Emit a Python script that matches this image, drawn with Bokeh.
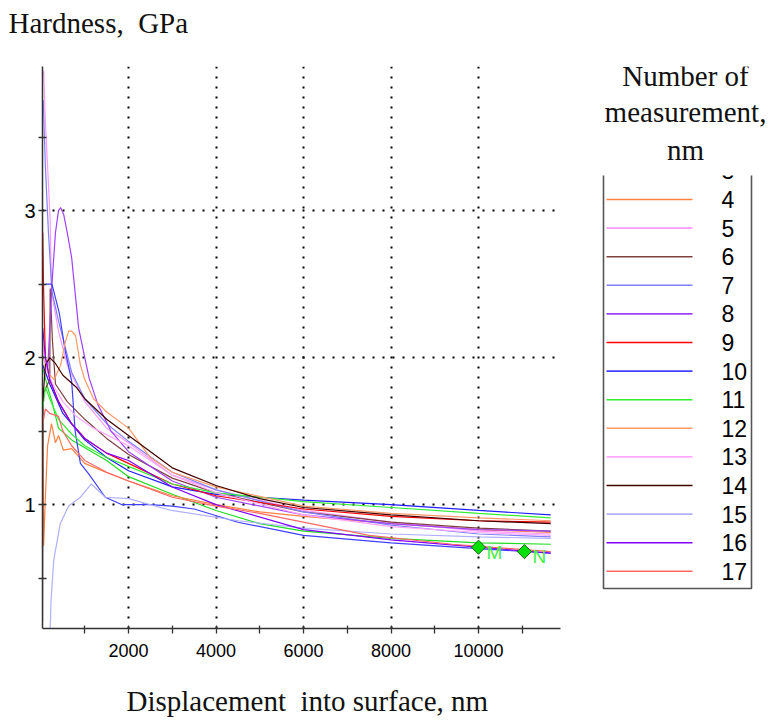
from bokeh.plotting import figure
from bokeh.layouts import row
from bokeh.models import Range1d, FixedTicker, Title, ColumnDataSource
from bokeh.core.properties import value
from bokeh.embed import file_html
from bokeh.resources import INLINE
import numpy as np

# ---------------- data ----------------
SERIES_IDS = [2, 3, 4, 5, 6, 7, 8, 9, 10, 11, 12, 13, 14, 15, 16, 17]
COLORS = {
    2: "#22DD22", 3: "#1E1EFF", 4: "#FF8040", 5: "#FF99FF", 6: "#804040",
    7: "#8080FF", 8: "#A040FF", 9: "#FF0000", 10: "#4040FF", 11: "#33EE33",
    12: "#FF9966", 13: "#FFAAFF", 14: "#400000", 15: "#B0B0FF", 16: "#8000FF",
    17: "#FF6666",
}

S2_X = [50, 150, 250, 400, 700, 1100, 1500, 2000, 3000, 4000, 5000, 6000, 8000, 10000, 11650]
S2_Y = [1.92, 1.80, 1.70, 1.52, 1.44, 1.37, 1.30, 1.19, 1.07, 0.96, 0.87, 0.82, 0.77, 0.74, 0.73]

S3_X = [40, 200, 500, 1000, 1500, 2000, 3000, 4000, 5000, 6000, 8000, 10000, 11650]
S3_Y = [1.95, 1.82, 1.62, 1.44, 1.32, 1.23, 1.12, 1.07, 1.05, 1.03, 1.00, 0.96, 0.93]

S4_X = [40, 60, 100, 150, 240, 330, 400, 510, 700, 1000, 1480, 2000, 3000, 4000, 5000, 6000, 8000, 10000, 11650]
S4_Y = [1.72, 0.72, 1.05, 1.40, 1.55, 1.42, 1.47, 1.37, 1.38, 1.28, 1.22, 1.16, 1.06, 1.00, 0.95, 0.92, 0.87, 0.83, 0.81]

S5_X = [60, 100, 170, 210, 240, 400, 600, 1000, 1500, 2000, 3000, 4000, 6000, 8000, 10000, 11650]
S5_Y = [3.95, 3.60, 3.18, 2.93, 2.45, 2.18, 1.95, 1.70, 1.52, 1.42, 1.20, 1.10, 0.96, 0.88, 0.82, 0.80]

S6_X = [35, 45, 60, 120, 200, 210, 260, 330, 600, 1000, 1500, 2000, 3000, 4000, 6000, 8000, 10000, 11650]
S6_Y = [0.20, 1.60, 1.75, 1.80, 1.85, 2.47, 2.12, 1.82, 1.70, 1.58, 1.45, 1.34, 1.18, 1.08, 0.95, 0.88, 0.84, 0.82]

S7_X = [50, 100, 170, 250, 400, 700, 1000, 1500, 2000, 3000, 4000, 6000, 8000, 10000, 11650]
S7_Y = [3.75, 3.30, 2.85, 2.45, 2.25, 1.90, 1.72, 1.55, 1.43, 1.22, 1.10, 0.95, 0.86, 0.80, 0.78]

S8_X = [150, 250, 330, 400, 450, 520, 600, 700, 860, 1000, 1100, 1300, 1600, 2000, 3000, 4000, 6000, 8000, 10000, 11650]
S8_Y = [1.90, 2.50, 2.85, 3.00, 3.02, 2.97, 2.85, 2.68, 2.20, 2.00, 1.86, 1.68, 1.50, 1.36, 1.16, 1.05, 0.93, 0.87, 0.83, 0.82]

S9_X = [40, 60, 100, 200, 400, 700, 1000, 1500, 2000, 3000, 4000, 6000, 8000, 10000, 11650]
S9_Y = [2.85, 2.45, 2.00, 1.85, 1.70, 1.55, 1.45, 1.35, 1.28, 1.14, 1.06, 0.97, 0.92, 0.89, 0.88]

S10_X = [100, 250, 420, 550, 700, 780, 900, 1085, 1470, 1840, 2500, 3000, 3500, 4500, 6000, 8000, 10000, 11650]
S10_Y = [2.50, 2.50, 2.30, 2.05, 1.84, 1.50, 1.28, 1.21, 1.05, 1.00, 1.00, 0.99, 0.97, 0.88, 0.79, 0.74, 0.70, 0.67]

S11_X = [40, 100, 200, 400, 700, 1000, 1500, 2000, 3000, 4000, 6000, 8000, 10000, 11650]
S11_Y = [1.65, 1.80, 1.72, 1.58, 1.48, 1.40, 1.32, 1.26, 1.14, 1.08, 1.02, 0.98, 0.94, 0.91]

S12_X = [60, 150, 300, 450, 550, 630, 700, 790, 900, 1000, 1200, 1500, 2000, 2500, 3000, 4000, 6000, 8000, 10000, 11650]
S12_Y = [2.00, 1.90, 1.85, 1.95, 2.10, 2.18, 2.18, 2.15, 1.95, 1.85, 1.72, 1.63, 1.52, 1.32, 1.22, 1.12, 0.99, 0.94, 0.91, 0.89]

S13_X = [40, 80, 150, 300, 500, 800, 1200, 2000, 3000, 4000, 6000, 8000, 10000, 11650]
S13_Y = [2.10, 2.00, 1.90, 1.80, 1.70, 1.60, 1.52, 1.40, 1.20, 1.08, 0.93, 0.85, 0.81, 0.79]

S14_X = [40, 100, 200, 330, 500, 800, 1000, 1500, 2000, 3000, 4000, 5000, 6000, 8000, 10000, 11650]
S14_Y = [1.70, 1.95, 2.00, 1.96, 1.88, 1.80, 1.72, 1.58, 1.47, 1.25, 1.13, 1.04, 0.98, 0.93, 0.89, 0.87]

S15_X = [210, 230, 290, 440, 630, 900, 1150, 1470, 2000, 2980, 4510, 6000, 8000, 10000, 11650]
S15_Y = [0.16, 0.35, 0.62, 0.87, 0.99, 1.05, 1.14, 1.05, 1.04, 0.96, 0.89, 0.84, 0.80, 0.78, 0.77]

S16_X = [40, 100, 200, 400, 700, 1000, 1500, 2000, 3000, 4000, 6000, 8000, 10000, 11650]
S16_Y = [2.20, 2.00, 1.85, 1.70, 1.55, 1.45, 1.35, 1.30, 1.12, 1.00, 0.83, 0.76, 0.71, 0.67]

S17_X = [40, 100, 200, 400, 500, 700, 1000, 1500, 2000, 3000, 4000, 5000, 7500, 9400, 11650]
S17_Y = [1.55, 1.65, 1.62, 1.60, 1.50, 1.40, 1.30, 1.22, 1.16, 1.05, 0.99, 0.94, 0.79, 0.73, 0.68]

MARK_X = [10000, 11050]
MARK_Y = [0.71, 0.68]
MARK_TEXT = ["M", "N"]

X_MAJOR = [2000, 4000, 6000, 8000, 10000]
X_MINOR = [1000, 3000, 5000, 7000, 9000, 11000]
Y_MAJOR = [1, 2, 3]
Y_MINOR = [0.5, 1.5, 2.5, 3.5]

LEGEND_TITLE = ["Number of", "measurement,", "nm"]

SERIES = {
    2: (S2_X, S2_Y), 3: (S3_X, S3_Y), 4: (S4_X, S4_Y), 5: (S5_X, S5_Y),
    6: (S6_X, S6_Y), 7: (S7_X, S7_Y), 8: (S8_X, S8_Y), 9: (S9_X, S9_Y),
    10: (S10_X, S10_Y), 11: (S11_X, S11_Y), 12: (S12_X, S12_Y), 13: (S13_X, S13_Y),
    14: (S14_X, S14_Y), 15: (S15_X, S15_Y), 16: (S16_X, S16_Y), 17: (S17_X, S17_Y),
}

SERIF = "Liberation Serif"
SANS = "Liberation Sans"
H = 720
TOP_B, BOT_B = 66, 92
MAIN_W = 578

# ---------------- main plot ----------------
p = figure(width=MAIN_W, height=H, output_backend="svg", toolbar_location=None,
           x_range=Range1d(34, 11874), y_range=Range1d(0.157, 3.98),
           min_border_left=42, min_border_right=18, min_border_top=TOP_B, min_border_bottom=BOT_B)
p.outline_line_color = None
p.background_fill_color = "white"
p.border_fill_color = "white"

for k in SERIES_IDS:
    xs, ys = SERIES[k]
    p.line(xs, ys, line_color=COLORS[k], line_width=1.2)

p.scatter(MARK_X, MARK_Y, marker="square", angle=np.pi / 4, size=10,
          fill_color="#00E000", line_color="#1C5C1C", line_width=1)
p.text(MARK_X, MARK_Y, text=MARK_TEXT, x_offset=8, y_offset=5,
       text_font=value(SANS), text_font_size="19px", text_color="#44EE44",
       text_baseline="middle", text_align="left")

for ax in (p.xaxis[0], p.yaxis[0]):
    ax.axis_line_color = "#333333"
    ax.axis_line_width = 1.5
    ax.major_tick_line_color = "#333333"
    ax.minor_tick_line_color = "#333333"
    ax.major_tick_line_width = 1.3
    ax.minor_tick_line_width = 1.3
    ax.major_label_text_font = SANS
    ax.major_label_text_color = "black"

p.xaxis.major_label_text_font_size = "18px"
p.yaxis.major_label_text_font_size = "20px"

p.xaxis.ticker = FixedTicker(ticks=X_MAJOR, minor_ticks=X_MINOR)
p.xaxis.major_tick_in = 3
p.xaxis.major_tick_out = 5
p.xaxis.minor_tick_in = 3
p.xaxis.minor_tick_out = 5
p.xaxis.major_label_standoff = 10

p.yaxis.ticker = FixedTicker(ticks=Y_MAJOR, minor_ticks=Y_MINOR)
p.yaxis.major_tick_in = 4
p.yaxis.major_tick_out = 4
p.yaxis.minor_tick_in = 4
p.yaxis.minor_tick_out = 4
p.yaxis.major_label_standoff = 3

p.xgrid.ticker = FixedTicker(ticks=X_MAJOR)
p.ygrid.ticker = FixedTicker(ticks=Y_MAJOR)
for g in (p.xgrid[0], p.ygrid[0]):
    g.grid_line_color = "black"
    g.grid_line_width = 2
    g.grid_line_dash = "2 8"

# above: spacer (nearest the frame) then the axis title
p.add_layout(Title(text=" ", standoff=0, text_font=SERIF, text_font_size="24px"), "above")
p.add_layout(Title(text="Hardness,\u00a0 GPa", align="left", offset=-34, standoff=0,
                   text_font=SERIF, text_font_size="29px", text_font_style="normal",
                   text_color="#111111"), "above")
# below: axis, spacer, title
p.add_layout(Title(text=" ", standoff=0, text_font=SERIF, text_font_size="19px"), "below")
p.add_layout(Title(text="Displacement\u00a0 into surface, nm", align="left", offset=84, standoff=0,
                   text_font=SERIF, text_font_size="29px", text_font_style="normal",
                   text_color="#111111"), "below")

# ---------------- legend panel ----------------
ROW = 28.6                       # px between entries
FRAME_H = H - TOP_B - BOT_B      # same frame height as the main plot


def row_at(py_page):
    """legend row coordinate of a page pixel row (entry '4' sits at page y=199)"""
    return 4 + (py_page - 199) / ROW


top_val = row_at(TOP_B)
bot_val = top_val + FRAME_H / ROW
lg = figure(width=190, height=H, output_backend="svg", toolbar_location=None,
            x_range=Range1d(0, 190), y_range=Range1d(bot_val, top_val),
            min_border_left=0, min_border_right=0, min_border_top=TOP_B, min_border_bottom=BOT_B,
            x_axis_location=None, y_axis_location=None)
lg.outline_line_color = None
lg.xgrid.visible = False
lg.ygrid.visible = False

ids = [1] + SERIES_IDS
cols = ["#404040"] + [COLORS[k] for k in SERIES_IDS]
src = ColumnDataSource(dict(y=ids, c=cols, t=[str(k) for k in ids],
                            x0=[28] * len(ids), x1=[114] * len(ids), xt=[143] * len(ids)))
lg.segment(x0="x0", y0="y", x1="x1", y1="y", line_color="c", line_width=1.6, source=src)
lg.text(x="xt", y="y", text="t", text_font=value(SANS), text_font_size="23px",
        text_color="black", text_baseline="middle", text_align="left", source=src)

box_top = row_at(175)
box_bot = row_at(588)
# white cover above the (scrolled) legend box
lg.quad(left=0, right=190, top=top_val, bottom=box_top, fill_color="white", line_color=None)
# box sides (no top edge)
lg.line([25, 25, 173, 173], [box_top, box_bot, box_bot, box_top], line_color="#555555", line_width=1.6)

lg.text(x=[107] * 3, y=[row_at(75), row_at(111), row_at(149)], text=LEGEND_TITLE,
        text_font=value(SERIF), text_font_size="29px", text_color="#111111",
        text_align="center", text_baseline="alphabetic")

layout = row(p, lg)
open("out.html", "w").write(file_html(layout, INLINE))
